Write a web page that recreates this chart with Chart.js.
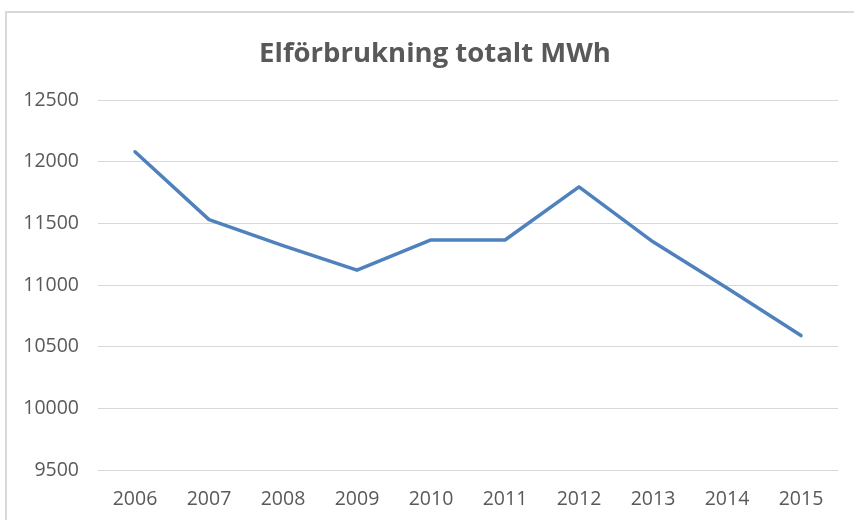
<!DOCTYPE html>
<html>
<head>
<meta charset="utf-8">
<script src="https://cdn.jsdelivr.net/npm/chart.js@4/dist/chart.umd.min.js"></script>
<style>
html,body{margin:0;padding:0;background:#fff;overflow:hidden;}
#frame{position:absolute;left:5px;top:11px;width:900px;height:600px;border:2px solid #d9d9d9;box-sizing:border-box;}
#wrap{position:absolute;left:0;top:0;width:854px;height:520px;}
</style>
</head>
<body>
<div id="frame"></div>
<div id="wrap"><canvas id="c" width="854" height="520"></canvas></div>
<script>
const titleText = "Elförbrukning totalt MWh";
const years = ["2006","2007","2008","2009","2010","2011","2012","2013","2014","2015"];
const consumption = [12080, 11530, 11320, 11120, 11365, 11365, 11795, 11350, 10975, 10590];
const yMin = 9500;
const yMax = 12500;
const yStep = 500;

const textColor = "#595959";
const gridColor = "#d9d9d9";
const lineColor = "#4F81BD";
const fontFamily = "'Open Sans', Lato, sans-serif";

// Title drawn centred on the chart frame (which starts at x=5 and runs past the right edge)
const frameTitle = {
  id: "frameTitle",
  afterDraw(chart) {
    const ctx = chart.ctx;
    ctx.save();
    ctx.font = "bold 27.5px " + fontFamily;
    ctx.fillStyle = textColor;
    ctx.textAlign = "center";
    ctx.textBaseline = "alphabetic";
    ctx.fillText(titleText, 435, 62);
    ctx.restore();
  }
};

new Chart(document.getElementById("c"), {
  type: "line",
  data: {
    labels: years,
    datasets: [{
      label: titleText,
      data: consumption,
      borderColor: lineColor,
      backgroundColor: lineColor,
      borderWidth: 3.5,
      pointRadius: 0,
      tension: 0,
      borderCapStyle: "round",
      borderJoinStyle: "round"
    }]
  },
  plugins: [frameTitle],
  options: {
    responsive: false,
    animation: false,
    layout: { padding: { left: 0, right: 16, top: 100, bottom: 0 } },
    plugins: {
      legend: { display: false },
      tooltip: { enabled: false },
      title: { display: false }
    },
    scales: {
      x: {
        offset: true,
        grid: { display: false, drawTicks: false },
        border: { display: false },
        ticks: { color: textColor, font: { family: fontFamily, size: 19.5 }, padding: 18, maxRotation: 0 },
        afterFit: s => { s.height = 50; }
      },
      y: {
        min: yMin,
        max: yMax,
        grid: { color: gridColor, lineWidth: 1, drawTicks: false },
        border: { display: false },
        ticks: {
          stepSize: yStep,
          color: textColor,
          font: { family: fontFamily, size: 19.5 },
          padding: 19,
          callback: v => String(v)
        },
        afterFit: s => { s.width = 98; }
      }
    }
  }
});
</script>
</body>
</html>
